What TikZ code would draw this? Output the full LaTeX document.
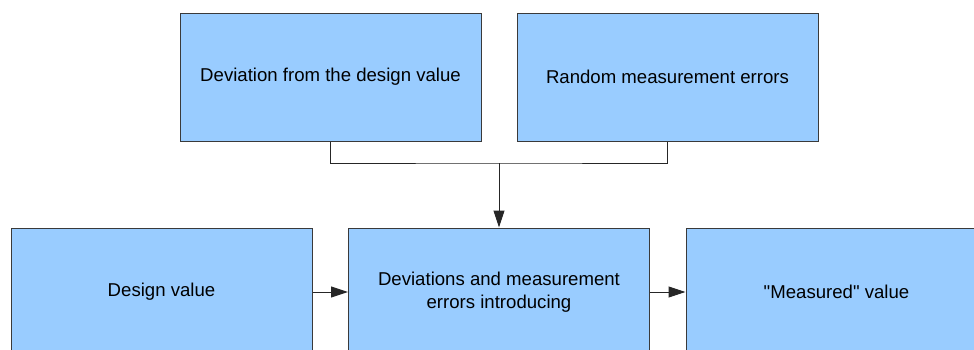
\documentclass[tikz,border=0pt]{standalone}
\usepackage{fontspec}
\setmainfont{Liberation Sans}
\usetikzlibrary{arrows.meta}
\definecolor{boxfill}{HTML}{99CCFF}
\definecolor{boxline}{HTML}{3A3A3A}
\begin{document}
\begin{tikzpicture}[x=1pt,y=-1pt,
  box/.style={draw=boxline, fill=boxfill, line width=1pt, minimum width=301pt, minimum height=128pt, inner sep=0pt, align=center, font=\fontsize{18.6}{22.5}\selectfont},
  link/.style={draw=black!85, line width=1pt},
  arrowlink/.style={link, -{Triangle[length=17pt,width=11pt]}}]
\useasboundingbox (0,0) rectangle (974,349);
\clip (0,0) rectangle (974,349);
\fill[white] (0,0) rectangle (974,349);
\node[box] (tl) at (330.5,77) {Deviation from the design value};
\node[box] (tr) at (667.5,77) {Random measurement errors};
\node[box] (bl) at (161.5,292) {Design value};
\node[box] (bm) at (499,292) {Deviations and measurement\\errors introducing};
\node[box] (br) at (836.5,292) {\textquotedbl Measured\textquotedbl{} value};
\coordinate (join) at (499,163);
\draw[link] (tl.south) |- (join) -| (tr.south);
\draw[arrowlink] (join) -- (bm.north);
\draw[arrowlink] (bl.east) -- (bm.west);
\draw[arrowlink] (bm.east) -- (br.west);
\end{tikzpicture}
\end{document}
